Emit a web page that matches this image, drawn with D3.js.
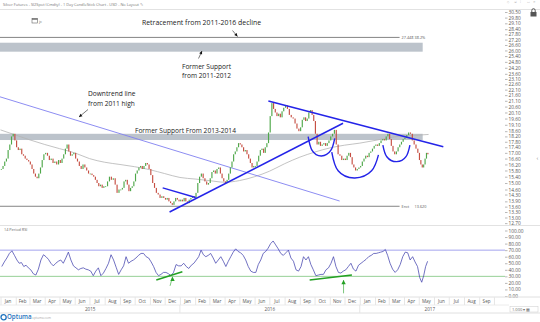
<!DOCTYPE html>
<html><head><meta charset="utf-8">
<script src="https://cdn.jsdelivr.net/npm/d3@7"></script>
<style>
html,body{margin:0;padding:0;background:#fff;overflow:hidden;}
svg{display:block;font-family:"Open Sans",sans-serif;}
</style></head><body>
<svg id="chart" width="540" height="322"></svg>
<script>
// Silver, semi-weekly closes grouped by month (Jan..Dec)
const closes2015 = [
 [15.9,16.1,16.4,16.6,17.2,17.6,18.2,18.4,17.9],
 [17.4,17.2,17.3,16.9,16.8,16.6,16.5,16.4],
 [16.2,15.9,15.6,15.4,15.3,15.6,16.0,16.5,16.9],
 [17.0,16.8,16.5,16.6,16.3,16.4,16.2,16.5],
 [16.3,16.6,16.9,17.3,17.6,17.1,16.8,16.9,17.0],
 [16.6,16.4,16.1,15.9,16.2,16.0,15.8,15.6],
 [15.6,15.5,15.4,15.2,15.0,14.8,14.9,14.7,14.8],
 [14.8,15.1,15.4,15.2,15.3,14.9,14.4,14.6],
 [14.6,14.7,15.1,15.2,14.9,14.5,14.7,14.8,15.1],
 [15.6,15.8,16.0,16.1,15.9,16.1,16.3,16.2,15.9],
 [15.5,15.0,14.7,14.4,14.3,14.1,14.2,14.1],
 [14.0,14.1,13.9,13.8,13.7,13.9,14.1,14.0,13.9]
];
const closes2016 = [
 [14.0,13.9,14.1,13.9,13.8,14.0,14.1,14.2,14.1],
 [14.4,15.0,15.4,15.6,15.3,15.1,14.9,15.0],
 [15.3,15.7,15.8,15.6,15.9,16.0,15.6,15.3,15.1],
 [15.0,15.2,15.6,16.0,16.4,16.9,17.1,17.4,17.7],
 [17.6,17.4,17.1,17.2,16.9,16.6,16.3,16.0,16.1],
 [16.1,16.4,16.8,17.2,17.3,17.0,17.4,17.7,18.5],
 [19.8,20.9,20.4,20.1,19.8,20.0,19.7,20.2,20.5],
 [20.7,20.4,19.9,19.7,19.6,19.2,18.8,18.6],
 [18.9,19.5,19.7,19.4,19.6,20.1,20.3,19.9,19.4],
 [18.4,17.6,17.8,17.5,17.6,17.7,17.5,17.7,17.9],
 [18.2,18.4,18.7,17.6,16.9,16.8,16.5,16.6],
 [16.5,16.8,17.0,16.7,16.2,16.0,15.8,15.9,16.0]
];
const closes2017 = [
 [16.1,16.4,16.6,16.8,16.7,17.0,17.1,17.3,17.5],
 [17.6,17.5,17.7,17.9,18.0,17.9,18.2,18.4],
 [18.0,17.5,17.1,16.9,17.1,17.4,17.6,17.8,18.0],
 [18.1,18.3,18.5,18.4,17.9,17.6,17.3,17.0],
 [16.5,16.2,16.0,16.2,16.6,17.0,16.9]
];
const lastDay = "2017-05-21";

// 14 period RSI, grouped by month
const rsi2015 = [
 [45,52,58,65,69,62],[55,50,51,45,47,43],[40,34,32,41,55,63],[60,56,50,46,50,53],
 [55,50,58,67,55,46],[43,40,42,43,41,40],[38,31,38,43,31,35],[42,50,63,55,44,33],
 [40,46,60,50,53,55],[58,62,65,65,60,58],[52,45,36,31,33,36],[36,34,31,36,48,46]
];
const rsi2016 = [
 [46,50,45,42,47,50],[55,60,70,63,60,62],[65,58,50,55,60,53],[45,53,60,67,72,68],
 [66,62,55,45,38,36],[36,48,55,65,68,73],[80,84,78,72,65,62],[66,70,58,53,40,38],
 [45,60,55,60,48,40],[31,32,33,33,40,43],[50,60,45,36,35,38],[40,45,50,41,38,47]
];
const rsi2017 = [
 [50,53,56,60,62,65],[65,66,67,68,71,62],[50,41,36,40,48,60],[67,66,55,60,52,45],[28,21,31,45,53]
];

// long moving average at each month start (Jan 2015 .. May 2017), then last bar
const movingAvg = [18.7,18.3,17.95,17.6,17.3,17.0,16.6,16.35,16.2,16.05,15.85,15.6,
  15.35,15.25,15.15,15.05,15.15,15.4,15.75,16.25,16.7,17.05,17.35,17.55,
  17.7,17.9,18.1,18.25,18.3,18.35];

const priceTicks = ["31.20","30.50","29.80","29.10","28.40","27.80","27.20","26.60","26.00",
  "25.40","24.80","24.20","23.60","23.10","22.60","22.10","21.60","21.10","20.60","20.10",
  "19.60","19.10","18.60","18.20","17.80","17.40","17.00","16.60","16.20","15.80","15.40",
  "15.00","14.60","14.30","13.90","13.60","13.30","13.00","12.70"];
const rsiTicks = [100,90,80,70,60,50,40,30,20,10,0];
const rsiLevels = {upper:70, lower:30};
const monthNames = ["Jan","Feb","Mar","Apr","May","Jun","Jul","Aug","Sep","Oct","Nov","Dec"];
const years = ["2015","2016","2017"];

// drawn studies (date, price)
const retraceLevel = 27.448, retraceLabel = ["27.448","38.2%"];
const exitLevel = 13.620, exitLabel = ["Enct","13.620"];
const levelEnd = "2017-03-23";
const bandEnd = "2017-05-09";
const band2011 = [25.87, 26.85];
const band2013 = [17.93, 18.40];
const downtrend2011 = [["2014-12-31",21.45],["2016-11-21",13.92]];
const uptrend = [["2015-12-11",13.30],["2016-11-28",19.22]];
const topTrend = [["2016-06-29",21.08],["2017-06-20",17.44]];
const wedgeTop = [["2015-11-27",14.70],["2016-02-02",14.13]];
const arcs = [
 [["2016-09-18",18.18],["2016-09-26",17.17],["2016-10-15",16.78],["2016-11-03",17.17],["2016-11-11",18.06]],
 [["2016-11-05",17.06],["2016-11-18",15.78],["2016-12-22",15.32],["2017-01-25",15.78],["2017-02-08",16.86]],
 [["2017-02-17",17.56],["2017-02-25",16.73],["2017-03-17",16.39],["2017-04-05",16.73],["2017-04-13",17.56]]
];
// RSI divergence lines (date, RSI)
const rsiDiv = [
 [["2015-11-14",24.4],["2016-01-06",37.1]],
 [["2016-09-21",24.4],["2016-12-16",32.1]]
];
const rsiArrows = [
 [["2015-12-12",15.5],["2015-12-17",29.5]],
 [["2016-11-29",4.1],["2016-11-29",24.4]]
];

const svg = d3.select("#chart");
const parse = d3.utcParse("%Y-%m-%d");
const D = s => parse(s);

const x = d3.scaleUtc().domain([Date.UTC(2015,0,1), Date.UTC(2017,9,31)]).range([0.5, 508.7]);
const y = d3.scaleLog().domain([30.5, 13.0]).range([12, 217.5]);
const yR = d3.scaleLinear().domain([100, 0]).range([230.5, 296]);

// price panel clip (below the header strip)
svg.append("defs").append("clipPath").attr("id", "pclip")
  .append("rect").attr("x", 0).attr("y", 9.5).attr("width", 540).attr("height", 216);

// build bars, spread evenly through each month
const spread = (yearly) => {
  const out = [];
  yearly.forEach(([yr, months]) => {
    months.forEach((vals, m) => {
      const s = Date.UTC(yr, m, 1);
      let e = Date.UTC(yr, m + 1, 1);
      if (yr === 2017 && m === months.length - 1) e = +D(lastDay);
      vals.forEach((v, k) => out.push({date: new Date(s + (k + 0.5) * (e - s) / vals.length), v}));
    });
  });
  return out;
};
const bars = spread([[2015,closes2015],[2016,closes2016],[2017,closes2017]]);
bars.forEach((b, i) => { b.close = b.v; b.open = i ? bars[i-1].v : b.v; });
const rsiPts = spread([[2015,rsi2015],[2016,rsi2016],[2017,rsi2017]]);

// ---------- header ----------
svg.append("text").attr("x", 3).attr("y", 5.8).attr("font-size", 3.9).attr("fill", "#777")
  .text("Silver Futures - SI2Spot (Cmdty) - 1 Day CandleStick Chart - USD - No Layout");
svg.append("text").attr("x", 140).attr("y", 6).attr("font-size", 4.4).attr("fill", "#777").text("✎");
["◇","⇲","⁞","▭","✕"].forEach((g, i) => svg.append("text").attr("x", 507 + i * 6.5).attr("y", 3.4)
  .attr("font-size", 3.0).attr("fill", "#aaa").text(g));
svg.append("line").attr("x1", 0).attr("x2", 540).attr("y1", 9.5).attr("y2", 9.5).attr("stroke", "#e2e2e2");

// calendar icon
svg.append("rect").attr("x", 32).attr("y", 18.5).attr("width", 5.5).attr("height", 4.5).attr("fill", "#fff").attr("stroke", "#666").attr("stroke-width", 0.6);
svg.append("rect").attr("x", 32).attr("y", 18.5).attr("width", 5.5).attr("height", 1.2).attr("fill", "#666");
svg.append("text").attr("x", 39).attr("y", 22.5).attr("font-size", 4).attr("fill", "#666").text("jc");

// ---------- price panel ----------
const gP = svg.append("g").attr("clip-path", "url(#pclip)");
// support bands
[band2011, band2013].forEach(b => {
  gP.append("rect").attr("x", 0).attr("width", x(D(bandEnd)))
    .attr("y", y(b[1])).attr("height", y(b[0]) - y(b[1])).attr("fill", "#bcc3cb");
});
// horizontal levels
[[retraceLevel, retraceLabel],[exitLevel, exitLabel]].forEach(([lv, lab]) => {
  gP.append("line").attr("x1", 0).attr("x2", x(D(levelEnd))).attr("y1", y(lv)).attr("y2", y(lv))
    .attr("stroke", "#666").attr("stroke-width", 0.8);
  gP.append("text").attr("x", x(D(levelEnd)) + 2).attr("y", y(lv) + 1.4).attr("font-size", 3.8).attr("fill", "#555").text(lab[0]);
  gP.append("text").attr("x", x(D(levelEnd)) + 15).attr("y", y(lv) + 1.4).attr("font-size", 3.8).attr("fill", "#555").text(lab[1]);
});

// moving average
const maDates = movingAvg.map((v, i) => i < movingAvg.length - 1 ? new Date(Date.UTC(2015, i, 1)) : D(lastDay));
gP.append("path").datum(movingAvg.map((v, i) => [maDates[i], v]))
  .attr("d", d3.line().x(d => x(d[0])).y(d => y(d[1])).curve(d3.curveMonotoneX))
  .attr("fill", "none").attr("stroke", "#b4b4b4").attr("stroke-width", 0.8);

// downtrend line from 2011 high (thin)
gP.append("path").datum(downtrend2011.map(p => [D(p[0]), p[1]]))
  .attr("d", d3.line().x(d => x(d[0])).y(d => y(d[1]))).attr("stroke", "#8080f0").attr("stroke-width", 0.9).attr("fill", "none");

// candles
const bw = 1.15;
gP.selectAll("rect.c").data(bars).join("rect").attr("class", "c")
  .attr("x", d => x(d.date) - bw / 2).attr("width", bw)
  .attr("y", d => y(Math.max(d.open, d.close)))
  .attr("height", d => Math.max(0.8, Math.abs(y(d.open) - y(d.close))))
  .attr("fill", d => d.close >= d.open ? "#4fa84a" : "#c64e42");

// bold trendlines
const blue = "#2424e8";
[uptrend, topTrend, wedgeTop].forEach(l => {
  gP.append("path").datum(l.map(p => [D(p[0]), p[1]]))
    .attr("d", d3.line().x(d => x(d[0])).y(d => y(d[1]))).attr("stroke", blue).attr("stroke-width", 1.5).attr("fill", "none");
});
arcs.forEach(a => {
  gP.append("path").datum(a.map(p => [D(p[0]), p[1]]))
    .attr("d", d3.line().x(d => x(d[0])).y(d => y(d[1])).curve(d3.curveNatural))
    .attr("stroke", blue).attr("stroke-width", 1.4).attr("fill", "none");
});

// annotations
const note = (tx, ty, lines, fs) => {
  const t = svg.append("text").attr("x", tx).attr("y", ty).attr("font-size", fs).attr("fill", "#222");
  lines.forEach((s, i) => t.append("tspan").attr("x", tx).attr("dy", i ? fs * 1.45 : 0).text(s));
};
note(142, 25, ["Retracement from 2011-2016 decline"], 6.9);
note(182, 68.5, ["Former Support", "from 2011-2012"], 6.6);
note(88, 96, ["Downtrend line", "from 2011 high"], 6.6);
note(135, 132.5, ["Former Support From 2013-2014"], 6.6);

const arrow = (x1, y1, x2, y2) => {
  svg.append("line").attr("x1", x1).attr("y1", y1).attr("x2", x2).attr("y2", y2).attr("stroke", "#222").attr("stroke-width", 0.6);
  const ang = Math.atan2(y2 - y1, x2 - x1), L = 3.2, Wd = 1.6;
  const bx = x2 - L * Math.cos(ang), by = y2 - L * Math.sin(ang);
  svg.append("path").attr("d", `M${x2},${y2}L${bx - Wd*Math.sin(ang)},${by + Wd*Math.cos(ang)}L${bx + Wd*Math.sin(ang)},${by - Wd*Math.cos(ang)}Z`).attr("fill", "#111");
};
arrow(232.5, 30.5, 237.5, 36.5);
arrow(198.5, 58.5, 202, 51);
arrow(88, 109.5, 79, 117);

// price axis
const styleAxis = g => {
  g.select(".domain").remove();
  g.selectAll("text").attr("font-size", 4.8).attr("fill", "#555").attr("font-family", "Open Sans, sans-serif");
  g.selectAll("line").attr("stroke", "#888").attr("stroke-width", 0.6);
};
svg.append("g").attr("clip-path", "url(#pclip)").append("g").attr("transform", "translate(505,0)")
  .call(d3.axisRight(y).tickValues(priceTicks.map(Number)).tickFormat(d3.format(".2f")).tickSize(2.5).tickPadding(1))
  .call(styleAxis);

// lock icon & side tab
svg.append("rect").attr("x", 530.5).attr("y", 12).attr("width", 6).attr("height", 4.5).attr("fill", "#555");
svg.append("path").attr("d", "M531.8,12 v-1.6 a1.7,1.7 0 0 1 3.4,0 v1.6").attr("fill", "none").attr("stroke", "#555").attr("stroke-width", 1);
svg.append("text").attr("x", 536.5).attr("y", 159.5).attr("font-size", 6).attr("fill", "#888").text("‹");

// ---------- RSI panel ----------
svg.append("line").attr("x1", 0).attr("x2", 540).attr("y1", 225.5).attr("y2", 225.5).attr("stroke", "#e2e2e2");
svg.append("text").attr("x", 4).attr("y", 230.5).attr("font-size", 3.8).attr("fill", "#666").text("14 Period RSI");
svg.append("line").attr("x1", 0).attr("x2", 505).attr("y1", yR(rsiLevels.upper)).attr("y2", yR(rsiLevels.upper)).attr("stroke", "#8c8ce8").attr("stroke-width", 0.8);
svg.append("line").attr("x1", 0).attr("x2", 505).attr("y1", yR(rsiLevels.lower)).attr("y2", yR(rsiLevels.lower)).attr("stroke", "#7cc47c").attr("stroke-width", 0.8);
svg.append("path").datum(rsiPts).attr("d", d3.line().x(d => x(d.date)).y(d => yR(d.v)))
  .attr("fill", "none").attr("stroke", "#4343ad").attr("stroke-width", 0.75);
const green = "#23a023";
rsiDiv.forEach(l => svg.append("path").datum(l.map(p => [D(p[0]), p[1]]))
  .attr("d", d3.line().x(d => x(d[0])).y(d => yR(d[1]))).attr("stroke", green).attr("stroke-width", 1.5).attr("fill", "none"));
rsiArrows.forEach(l => {
  const x1 = x(D(l[0][0])), y1 = yR(l[0][1]), x2 = x(D(l[1][0])), y2 = yR(l[1][1]);
  svg.append("line").attr("x1", x1).attr("y1", y1).attr("x2", x2).attr("y2", y2).attr("stroke", green).attr("stroke-width", 0.6);
  svg.append("path").attr("d", `M${x2},${y2}l-2.2,4.2h4.4z`).attr("fill", green);
});
svg.append("g").attr("transform", "translate(505,0)")
  .call(d3.axisRight(yR).tickValues(rsiTicks).tickFormat(d3.format(".2f")).tickSize(2.5).tickPadding(1))
  .call(styleAxis);

// ---------- time axis ----------
const yM = 297, yY = 305, yB = 313;
svg.append("line").attr("x1", 0).attr("x2", 540).attr("y1", yM).attr("y2", yM).attr("stroke", "#e0e0e0");
svg.append("line").attr("x1", 0).attr("x2", 509).attr("y1", yY).attr("y2", yY).attr("stroke", "#ececec");
svg.append("line").attr("x1", 0).attr("x2", 540).attr("y1", yB).attr("y2", yB).attr("stroke", "#e0e0e0");
const monthStarts = d3.utcMonths(Date.UTC(2015,0,1), Date.UTC(2017,10,1));
const axMonths = svg.append("g").attr("transform", `translate(0,${yM})`)
  .call(d3.axisBottom(x).tickValues(monthStarts).tickSize(8).tickFormat(""));
axMonths.select(".domain").remove();
axMonths.selectAll("line").attr("stroke", "#e6e6e6");
svg.append("g").selectAll("text").data(monthStarts.slice(0, -1)).join("text")
  .attr("x", d => (x(d) + x(d3.utcMonth.offset(d, 1))) / 2).attr("y", yM + 5.6)
  .attr("text-anchor", "middle").attr("font-size", 4.6).attr("fill", "#555")
  .text(d => monthNames[d.getUTCMonth()]);
const yearStarts = [Date.UTC(2016,0,1), Date.UTC(2017,0,1)];
yearStarts.forEach(t => svg.append("line").attr("x1", x(t)).attr("x2", x(t)).attr("y1", yY).attr("y2", yB).attr("stroke", "#e6e6e6"));
const yearSpan = [[Date.UTC(2015,0,1), Date.UTC(2016,0,1)], [Date.UTC(2016,0,1), Date.UTC(2017,0,1)], [Date.UTC(2017,0,1), Date.UTC(2017,11,1)]];
years.forEach((yr, i) => svg.append("text").attr("x", (x(yearSpan[i][0]) + x(yearSpan[i][1])) / 2 - (i === 2 ? 12 : 0))
  .attr("y", yY + 5.5).attr("text-anchor", "middle").attr("font-size", 4.6).attr("fill", "#555").text(yr));

// zoom box
svg.append("rect").attr("x", 510).attr("y", 306.5).attr("width", 28).attr("height", 5.5).attr("fill", "#fff").attr("stroke", "#ccc").attr("stroke-width", 0.5);
svg.append("text").attr("x", 512).attr("y", 311).attr("font-size", 4).attr("fill", "#666").text("1.000 ▾ ▦");

// logo
svg.append("circle").attr("cx", 3.6).attr("cy", 317.2).attr("r", 2.6).attr("fill", "none").attr("stroke", "#1e73be").attr("stroke-width", 1.3);
svg.append("text").attr("x", 7).attr("y", 319.3).attr("font-size", 6.2).attr("font-weight", 600).attr("fill", "#1e73be").text("Optuma");
svg.append("text").attr("x", 32).attr("y", 318.6).attr("font-size", 3.2).attr("fill", "#aaa").text("optuma.com");
</script>
</body></html>
